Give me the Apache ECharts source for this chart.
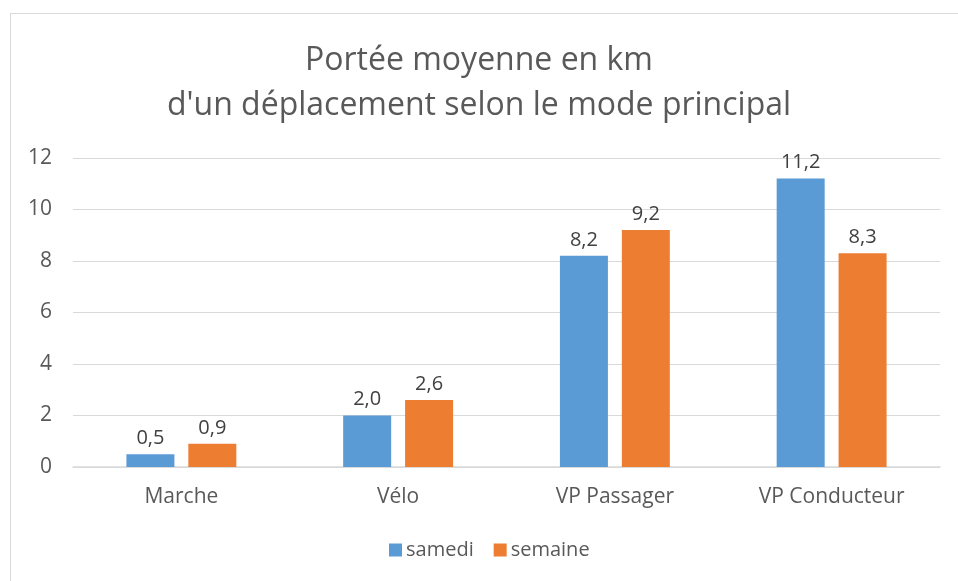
<!DOCTYPE html>
<html>
<head>
<meta charset="utf-8">
<script src="https://cdn.jsdelivr.net/npm/echarts@6/dist/echarts.min.js"></script>
<style>
  html, body { margin: 0; padding: 0; background: #fff; }
  #frame { position: absolute; left: 10px; top: 13px; width: 960px; height: 580px; border: 1px solid #d9d9d9; box-sizing: border-box; }
  #chart { width: 958px; height: 581px; position: absolute; left: 0; top: 0; }
</style>
</head>
<body>
<div id="frame"></div>
<div id="chart"></div>
<script>
const categories = ['Marche', 'Vélo', 'VP Passager', 'VP Conducteur'];
const samedi = [0.5, 2.0, 8.2, 11.2];
const semaine = [0.9, 2.6, 9.2, 8.3];
const yTicks = { min: 0, max: 12, interval: 2 };

const FONT = '"Open Sans", "DejaVu Sans", sans-serif';
const TEXT = '#595959';

const chart = echarts.init(document.getElementById('chart'), null, { renderer: 'canvas' });

function fmt(v) { return v.toFixed(1).replace('.', ','); }

chart.setOption({
  animation: false,
  backgroundColor: 'transparent',
  title: {
    text: 'Portée moyenne en km\nd\'un déplacement selon le mode principal',
    left: 'center',
    top: 33,
    textStyle: { fontFamily: FONT, fontSize: 32, fontWeight: 'normal', color: TEXT, lineHeight: 45 }
  },
  legend: {
    bottom: 16,
    left: 384,
    itemWidth: 13,
    itemHeight: 13,
    itemGap: 20,
    icon: 'rect',
    textStyle: { fontFamily: FONT, fontSize: 20, color: TEXT, padding: [0, 0, 0, -1] },
    data: ['samedi', 'semaine']
  },
  grid: { left: 73, right: 18, top: 158, bottom: 114, containLabel: false },
  xAxis: {
    type: 'category',
    data: categories,
    axisLine: { lineStyle: { color: '#d9d9d9', width: 1.5 } },
    axisTick: { show: false },
    axisLabel: { fontFamily: FONT, fontSize: 21, color: TEXT, margin: 20 }
  },
  yAxis: {
    type: 'value',
    min: yTicks.min,
    max: yTicks.max,
    interval: yTicks.interval,
    axisLine: { show: false },
    axisTick: { show: false },
    splitLine: { lineStyle: { color: '#d9d9d9', width: 1.2 } },
    axisLabel: { fontFamily: FONT, fontSize: 21, color: TEXT, margin: 21 }
  },
  series: [
    {
      name: 'samedi',
      type: 'bar',
      data: samedi,
      barWidth: 48,
      barGap: '29%',
      itemStyle: { color: '#5b9bd5' },
      label: { show: true, position: 'top', distance: 6, formatter: p => fmt(p.value), fontFamily: FONT, fontSize: 20, color: '#404040' }
    },
    {
      name: 'semaine',
      type: 'bar',
      data: semaine,
      barWidth: 48,
      itemStyle: { color: '#ed7d31' },
      label: { show: true, position: 'top', distance: 6, formatter: p => fmt(p.value), fontFamily: FONT, fontSize: 20, color: '#404040' }
    }
  ]
});
</script>
</body>
</html>
